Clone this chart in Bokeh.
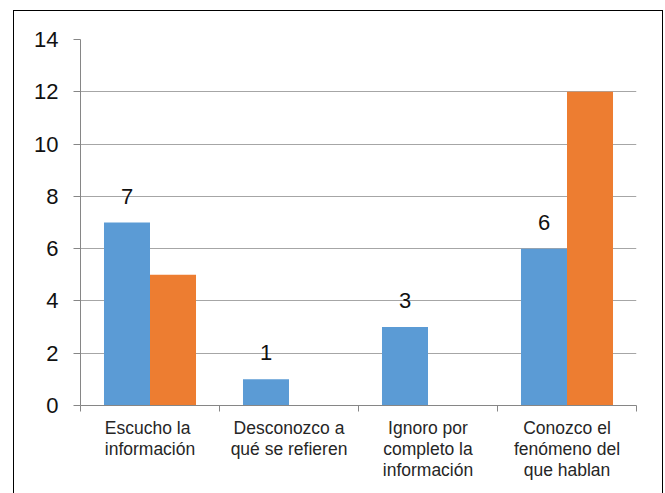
from bokeh.plotting import figure
from bokeh.models import ColumnDataSource, FixedTicker, Range1d
from bokeh.core.properties import value
from bokeh.embed import file_html
from bokeh.resources import INLINE

categories = ["Escucho  la\ninformación", "Desconozco a\nqué se refieren",
              "Ignoro por\ncompleto la\ninformación", "Conozco el\nfenómeno del\nque hablan"]
serie_azul = [7, 1, 3, 6]
serie_naranja = [5, 0, 0, 12]
y_ticks = [0, 2, 4, 6, 8, 10, 12, 14]

centers = [i + 0.5 for i in range(len(categories))]
bw = 0.331

p = figure(width=648, height=482, output_backend="svg", toolbar_location=None,
           x_range=Range1d(0, 4), y_range=Range1d(0, 14),
           min_border_left=66, min_border_right=26, min_border_top=28, min_border_bottom=88)
p.margin = (11, 0, 0, 14)
p.styles = {"outline": "1px solid black"}
p.outline_line_color = None
p.background_fill_color = "white"
p.border_fill_color = "white"

src_b = ColumnDataSource(dict(x=[c - bw / 2 for c in centers], top=serie_azul,
                              lab=[str(v) for v in serie_azul]))
src_o = ColumnDataSource(dict(x=[c + bw / 2 for c in centers], top=serie_naranja))

p.vbar(x="x", top="top", width=bw, source=src_b, fill_color="#5B9BD5", line_color=None)
p.vbar(x="x", top="top", width=bw, source=src_o, fill_color="#ED7D31", line_color=None)
p.text(x="x", y="top", text="lab", source=src_b, text_align="center", text_baseline="bottom",
       y_offset=-19, text_font=value("Liberation Sans"), text_font_size="22px", text_color="#111111")

# x axis
p.xaxis.ticker = FixedTicker(ticks=centers, minor_ticks=[0, 1, 2, 3, 4])
p.xaxis.major_label_overrides = {c: lab for c, lab in zip(centers, categories)}
p.xaxis.major_tick_line_color = None
p.xaxis.minor_tick_out = 6
p.xaxis.minor_tick_in = 0
p.xaxis.minor_tick_line_color = "#868686"
p.xaxis.axis_line_color = "#868686"
p.xaxis.major_label_standoff = 6
p.xaxis.major_label_text_font = "Liberation Sans"
p.xaxis.major_label_text_font_size = "17.5px"
p.xaxis.major_label_text_line_height = 1.05
p.xaxis.major_label_text_color = "#262626"

# y axis
p.yaxis.ticker = FixedTicker(ticks=y_ticks)
p.yaxis.minor_tick_line_color = None
p.yaxis.major_tick_out = 7
p.yaxis.major_tick_in = 0
p.yaxis.major_tick_line_color = "#868686"
p.yaxis.axis_line_color = "#868686"
p.yaxis.major_label_standoff = 15
p.yaxis.major_label_text_font = "Liberation Sans"
p.yaxis.major_label_text_font_size = "22px"
p.yaxis.major_label_text_color = "#111111"

p.xgrid.grid_line_color = None
p.ygrid.ticker = FixedTicker(ticks=y_ticks[1:])
p.ygrid.grid_line_color = "#A6A6A6"

open("out.html", "w").write(file_html(p, INLINE))
